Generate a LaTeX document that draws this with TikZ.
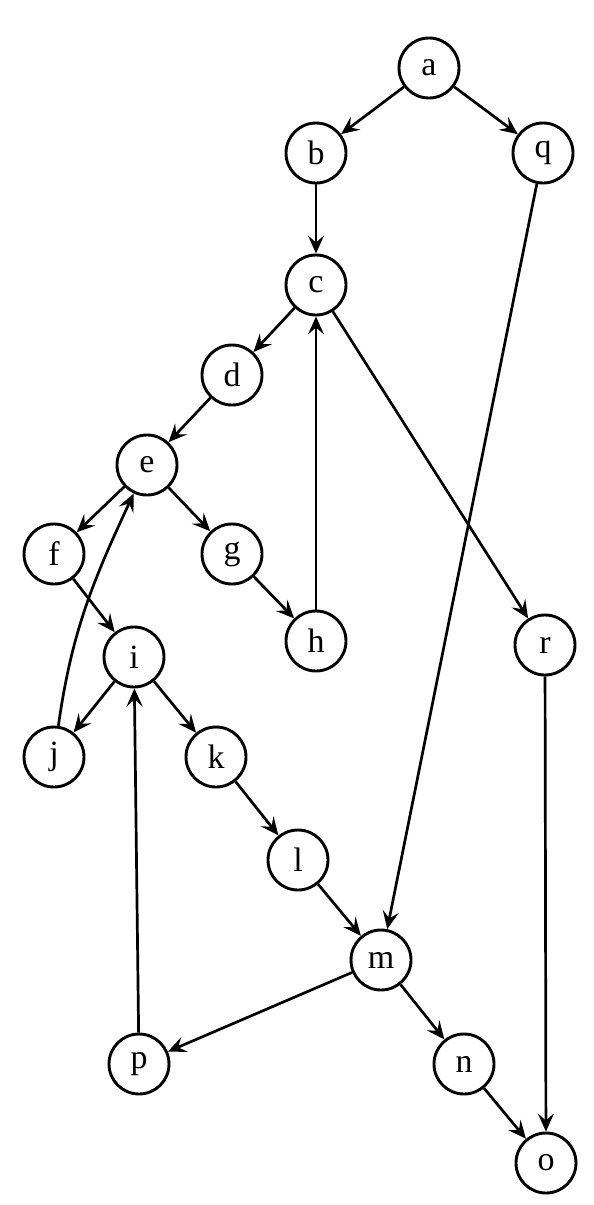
\documentclass[tikz,border=0pt]{standalone}
\usepackage{fontspec}
\setmainfont{Liberation Serif}
\usetikzlibrary{arrows.meta}

\tikzset{
  vertex/.style={draw, circle, line width=1.45pt, minimum size=30pt, inner sep=0pt, font=\fontsize{17}{19}\selectfont},
  edge/.style={line width=1.35pt, -{Stealth[length=9pt, width=8pt, inset=3.5pt]}}
}

\begin{document}
\begin{tikzpicture}[x=0.5pt, y=0.5pt]
\useasboundingbox (0,0) rectangle (594,-1205);

% nodes
\node[vertex] (a) at (429,-68) {a};
\node[vertex] (b) at (316,-153) {b};
\node[vertex] (q) at (543,-153) {q};
\node[vertex] (c) at (316,-285) {c};
\node[vertex] (d) at (232,-375) {d};
\node[vertex] (e) at (147,-465) {e};
\node[vertex] (f) at (54,-554) {f};
\node[vertex] (g) at (232,-554) {g};
\node[vertex] (h) at (316,-641) {h};
\node[vertex] (i) at (134,-657) {i};
\node[vertex] (r) at (545,-645) {r};
\node[vertex] (j) at (54,-757) {j};
\node[vertex] (k) at (216,-757) {k};
\node[vertex] (l) at (298,-860) {l};
\node[vertex] (m) at (381,-960) {m};
\node[vertex] (p) at (139,-1064) {p};
\node[vertex] (n) at (464,-1064) {n};
\node[vertex] (o) at (546,-1163) {o};

% edges
\draw[edge] (a) -- (b);
\draw[edge] (a) -- (q);
\draw[edge] (b) -- (c);
\draw[edge] (c) -- (d);
\draw[edge] (c) -- (r);
\draw[edge] (d) -- (e);
\draw[edge] (e) -- (f);
\draw[edge] (e) -- (g);
\draw[edge] (g) -- (h);
\draw[edge] (h) -- (c);
\draw[edge] (f) -- (i);
\draw[edge] (i) -- (j);
\draw[edge] (i) -- (k);
\draw[edge] (j) to[out=82, in=-115] (e);
\draw[edge] (k) -- (l);
\draw[edge] (l) -- (m);
\draw[edge] (q) -- (m);
\draw[edge] (m) -- (p);
\draw[edge] (m) -- (n);
\draw[edge] (p) -- (i);
\draw[edge] (n) -- (o);
\draw[edge] (r) -- (o);
\end{tikzpicture}
\end{document}
